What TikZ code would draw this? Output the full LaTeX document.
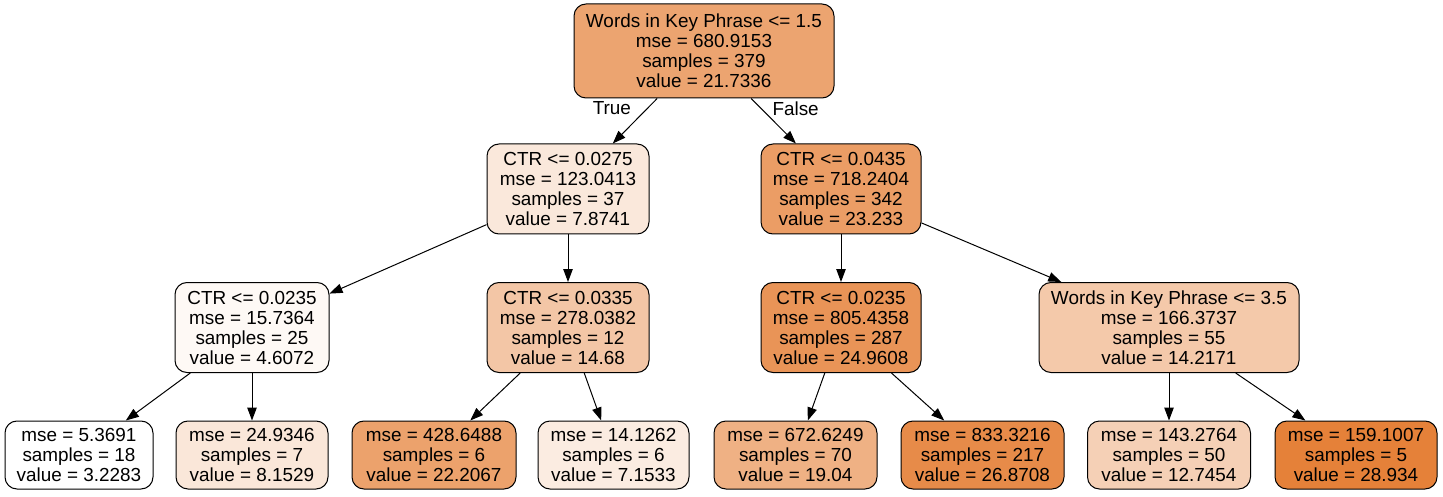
\documentclass[tikz,border=0pt]{standalone}
\usepackage{fontspec}
\setmainfont{Liberation Sans}
\usetikzlibrary{arrows.meta}
\definecolor{treeorange}{RGB}{229,129,57}
\tikzset{
    split/.style={rectangle, draw, line width=1pt, rounded corners=12pt,
                  fill=treeorange!#1, align=center, inner sep=0pt,
                  minimum height=90pt},
    leaf/.style={split=#1, minimum height=68pt},
    arr/.style={-{Triangle[length=13pt,width=9.5pt]}, line width=1pt},
    lbl/.style={inner sep=0pt},
}

\begin{document}
\begin{tikzpicture}[x=1pt, y=-1pt,
    every node/.style={font=\fontsize{18.9}{20}\selectfont}]
    \useasboundingbox (0,0) rectangle (1443,497);
    % root split
    \node[split=72, minimum width=260pt, minimum height=94pt] (root) at (704,51)
        {Words in Key Phrase <= 1.5\\mse = 680.9153\\samples = 379\\value = 21.7336};
    % first level
    \node[split=18, minimum width=162pt] (t) at (568,189)
        {CTR <= 0.0275\\mse = 123.0413\\samples = 37\\value = 7.8741};
    \node[split=78, minimum width=160pt] (f) at (841,189)
        {CTR <= 0.0435\\mse = 718.2404\\samples = 342\\value = 23.233};
    % second level
    \node[split=5,  minimum width=154pt] (tt) at (252,327.5)
        {CTR <= 0.0235\\mse = 15.7364\\samples = 25\\value = 4.6072};
    \node[split=45, minimum width=162pt] (tf) at (568,327.5)
        {CTR <= 0.0335\\mse = 278.0382\\samples = 12\\value = 14.68};
    \node[split=85, minimum width=160pt] (ft) at (841,327.5)
        {CTR <= 0.0235\\mse = 805.4358\\samples = 287\\value = 24.9608};
    \node[split=43, minimum width=260pt] (ff) at (1169,327.5)
        {Words in Key Phrase <= 3.5\\mse = 166.3737\\samples = 55\\value = 14.2171};
    % leaves
    \node[leaf=0,   minimum width=148pt] (ttt) at (79,455)
        {mse = 5.3691\\samples = 18\\value = 3.2283};
    \node[leaf=19,  minimum width=152pt] (ttf) at (252,455)
        {mse = 24.9346\\samples = 7\\value = 8.1529};
    \node[leaf=74,  minimum width=164pt] (tft) at (434,455)
        {mse = 428.6488\\samples = 6\\value = 22.2067};
    \node[leaf=15,  minimum width=151pt] (tff) at (613.5,455)
        {mse = 14.1262\\samples = 6\\value = 7.1533};
    \node[leaf=62,  minimum width=163pt] (ftt) at (795.5,455)
        {mse = 672.6249\\samples = 70\\value = 19.04};
    \node[leaf=92,  minimum width=163pt] (ftf) at (982.5,455)
        {mse = 833.3216\\samples = 217\\value = 26.8708};
    \node[leaf=37,  minimum width=163pt] (fft) at (1169,455)
        {mse = 143.2764\\samples = 50\\value = 12.7454};
    \node[leaf=100, minimum width=162pt] (fff) at (1356,455)
        {mse = 159.1007\\samples = 5\\value = 28.934};

    \draw[arr] (root) -- (t) node[lbl, pos=0.22, left=16pt] {True};
    \draw[arr] (root) -- (f) node[lbl, pos=0.22, right=11pt] {False};
    \draw[arr] (t)  -- (tt);
    \draw[arr] (t)  -- (tf);
    \draw[arr] (f)  -- (ft);
    \draw[arr] (f)  -- (ff);
    \draw[arr] (tt) -- (ttt);
    \draw[arr] (tt) -- (ttf);
    \draw[arr] (tf) -- (tft);
    \draw[arr] (tf) -- (tff);
    \draw[arr] (ft) -- (ftt);
    \draw[arr] (ft) -- (ftf);
    \draw[arr] (ff) -- (fft);
    \draw[arr] (ff) -- (fff);
\end{tikzpicture}
\end{document}
